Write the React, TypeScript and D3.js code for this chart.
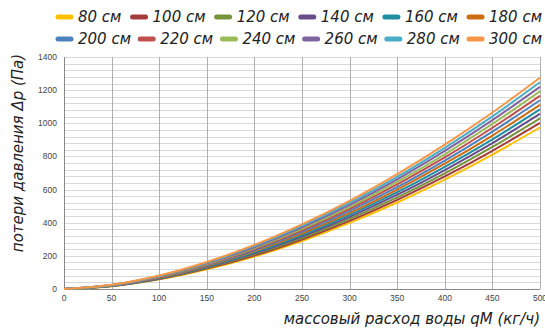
import React, { useEffect, useRef } from "react";
import * as d3 from "d3";

const flows = [0, 50, 100, 150, 200, 250, 300, 350, 400, 450, 500];
const seriesNames = ["80 см", "100 см", "120 см", "140 см", "160 см", "180 см", "200 см", "220 см", "240 см", "260 см", "280 см", "300 см"];
const seriesColors = ["#FFC000", "#A33C3A", "#77933C", "#674E8A", "#1F8EA3", "#CC6D14", "#4F81BD", "#C0504D", "#9BBB59", "#8064A2", "#4BACC6", "#F79646"];
const s80 = [0, 17, 58, 119, 196, 290, 399, 522, 660, 811, 975];
const s100 = [0, 18, 60, 123, 202, 299, 411, 538, 679, 834, 1002];
const s120 = [0, 18, 62, 127, 209, 308, 423, 553, 698, 857, 1030];
const s140 = [0, 19, 64, 131, 215, 317, 435, 569, 718, 880, 1057];
const s160 = [0, 20, 66, 135, 221, 326, 447, 584, 737, 903, 1084];
const s180 = [0, 21, 68, 139, 228, 335, 459, 600, 756, 926, 1111];
const s200 = [0, 21, 71, 143, 234, 345, 472, 615, 775, 950, 1139];
const s220 = [0, 22, 73, 147, 241, 354, 484, 631, 794, 973, 1166];
const s240 = [0, 23, 75, 151, 247, 363, 496, 646, 813, 996, 1193];
const s260 = [0, 24, 77, 155, 253, 372, 508, 662, 833, 1019, 1220];
const s280 = [0, 24, 79, 159, 260, 381, 520, 677, 852, 1042, 1248];
const s300 = [0, 25, 81, 163, 266, 390, 532, 693, 871, 1065, 1275];
const seriesValues = [s80, s100, s120, s140, s160, s180, s200, s220, s240, s260, s280, s300];
const xTicks = [0, 50, 100, 150, 200, 250, 300, 350, 400, 450, 500];
const yTicks = [0, 200, 400, 600, 800, 1000, 1200, 1400];
const yTitle = "потери давления Δp (Па)";
const xTitle = "массовый расход воды qM (кг/ч)";

export default function App() {
  const ref = useRef<SVGSVGElement>(null);
  useEffect(() => {
    const svg = d3.select(ref.current);
    svg.selectAll("*").remove();
    const x = d3.scaleLinear().domain([0, 500]).range([64, 540]);
    const y = d3.scaleLinear().domain([0, 1400]).range([289, 57]);
    const font = "'Liberation Sans', Arial, sans-serif";
    const tFont = "'DejaVu Sans', sans-serif";

    const hg = d3.range(40, 1401, 40);
    svg.append("g").selectAll("line").data(hg).join("line")
      .attr("x1", 64).attr("x2", 540)
      .attr("y1", (d) => Math.round(y(d)) + 0.5).attr("y2", (d) => Math.round(y(d)) + 0.5)
      .attr("stroke", "#d9d9d9").attr("stroke-width", 1);
    svg.append("g").selectAll("line").data(xTicks.slice(1)).join("line")
      .attr("x1", (d) => Math.round(x(d)) + 0.5).attr("x2", (d) => Math.round(x(d)) + 0.5)
      .attr("y1", 57).attr("y2", 289)
      .attr("stroke", "#b0b0b0").attr("stroke-width", 1);
    svg.append("line").attr("x1", 64.5).attr("x2", 64.5).attr("y1", 57).attr("y2", 289).attr("stroke", "#888");
    svg.append("line").attr("x1", 64).attr("x2", 540).attr("y1", 289.5).attr("y2", 289.5).attr("stroke", "#888");

    svg.append("g").selectAll("text").data(yTicks).join("text")
      .attr("x", 57).attr("y", (d) => y(d) + 3)
      .attr("text-anchor", "end").attr("font-family", font).attr("font-size", 8.5).attr("fill", "#444")
      .text((d) => String(d));
    svg.append("g").selectAll("text").data(xTicks).join("text")
      .attr("x", (d) => x(d)).attr("y", 301)
      .attr("text-anchor", "middle").attr("font-family", font).attr("font-size", 8.5).attr("fill", "#444")
      .text((d) => String(d));

    const line = d3.line<number>().x((_, i) => x(flows[i])).y((d) => y(d)).curve(d3.curveMonotoneX);
    svg.append("g").selectAll("path").data(seriesValues).join("path")
      .attr("d", (d) => line(d))
      .attr("fill", "none")
      .attr("stroke", (_, i) => seriesColors[i])
      .attr("stroke-width", 2);

    svg.append("text")
      .attr("transform", `translate(23,${153}) rotate(-90)`)
      .attr("text-anchor", "middle").attr("font-family", tFont).attr("font-style", "italic")
      .attr("font-size", 15).attr("fill", "#222").text(yTitle);
    svg.append("text")
      .attr("x", 540).attr("y", 324)
      .attr("text-anchor", "end").attr("font-family", tFont).attr("font-style", "italic")
      .attr("font-size", 15).attr("fill", "#222").text(xTitle);

    const lg = svg.append("g");
    const rows = [seriesNames.slice(0, 6), seriesNames.slice(6)];
    rows.forEach((names, r) => {
      const cy = r === 0 ? 17 : 39;
      const texts = names.map((name, j) => {
        const idx = r * 6 + j;
        const t = lg.append("text").attr("y", cy + 5)
          .attr("font-family", tFont).attr("font-style", "italic").attr("font-size", 15).attr("fill", "#222")
          .text(name);
        return { t, idx, w: (t.node() as SVGTextElement).getComputedTextLength() };
      });
      const total = d3.sum(texts, (d) => d.w + 20);
      const gap = (541 - 57 - total) / (names.length - 1);
      let cx = 58;
      texts.forEach(({ t, idx, w }) => {
        lg.append("line").attr("x1", cx).attr("x2", cx + 13).attr("y1", cy).attr("y2", cy)
          .attr("stroke", seriesColors[idx]).attr("stroke-width", 5).attr("stroke-linecap", "round");
        t.attr("x", cx + 20);
        cx += 20 + w + gap;
      });
    });
  }, []);
  return (
    <svg ref={ref} width={545} height={328} style={{ position: "absolute", left: 0, top: 0, background: "#fff" }} />
  );
}
